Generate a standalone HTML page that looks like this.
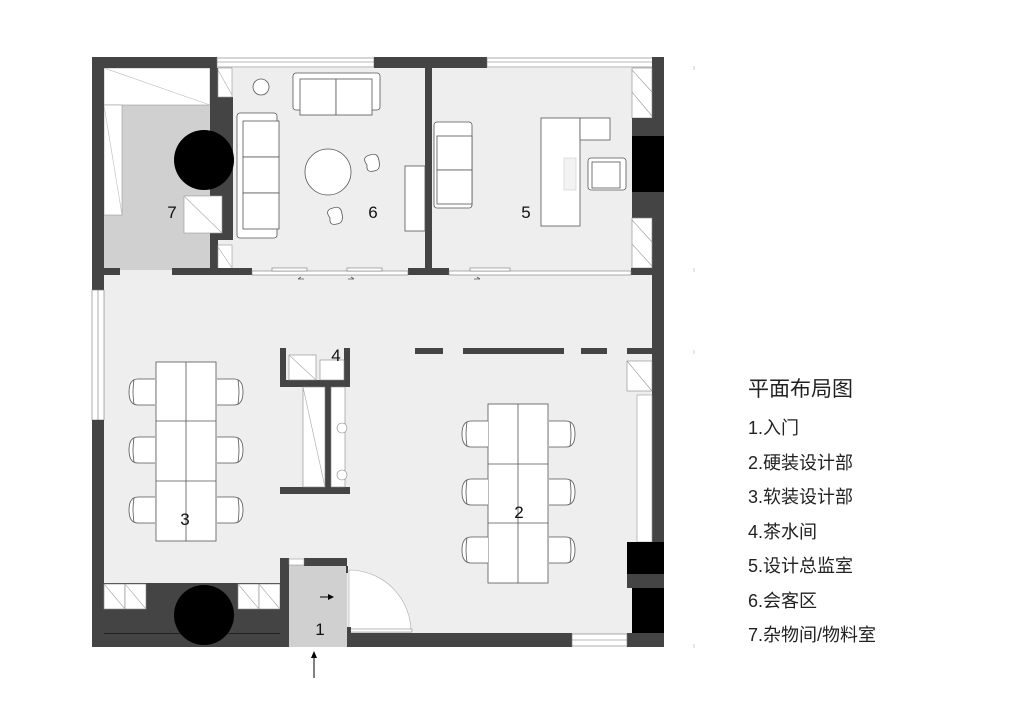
<!DOCTYPE html>
<html><head><meta charset="utf-8"><style>
html,body{margin:0;padding:0;background:#fff;}
svg{display:block;}
text{font-family:"Liberation Sans","Noto Sans CJK SC",sans-serif;}
</style></head><body>
<svg width="1020" height="710" viewBox="0 0 1020 710" xmlns="http://www.w3.org/2000/svg">
<!-- floors -->
<rect x="104" y="68" width="548" height="566" fill="#eeeeee"/>
<rect x="104" y="68" width="108" height="202" fill="#d0d0d0"/>
<rect x="104" y="68" width="106" height="37" fill="#fff" stroke="#999" stroke-width="0.6"/>
<line x1="104" y1="68" x2="210" y2="105" stroke="#bbb" stroke-width="0.6"/>
<rect x="104" y="105" width="18" height="110" fill="#fff" stroke="#999" stroke-width="0.6"/>
<line x1="104" y1="105" x2="122" y2="215" stroke="#bbb" stroke-width="0.6"/>
<!-- top wall -->
<rect x="92" y="57" width="125" height="11" fill="#444"/>
<rect x="217" y="58" width="157" height="9" fill="#fff" stroke="#777" stroke-width="0.6"/>
<line x1="217" y1="62" x2="374" y2="62" stroke="#777" stroke-width="0.6"/>
<rect x="374" y="57" width="113" height="11" fill="#444"/>
<rect x="487" y="58" width="166" height="9" fill="#fff" stroke="#777" stroke-width="0.6"/>
<line x1="487" y1="62" x2="653" y2="62" stroke="#777" stroke-width="0.6"/>
<!-- right wall -->
<rect x="652" y="57" width="12" height="590" fill="#444"/>
<rect x="632" y="68" width="20" height="50" fill="#fff" stroke="#888" stroke-width="0.6"/>
<line x1="632" y1="70" x2="652" y2="92" stroke="#999" stroke-width="0.6"/><line x1="632" y1="92" x2="652" y2="116" stroke="#999" stroke-width="0.6"/>
<rect x="632" y="118" width="20" height="100" fill="#444"/>
<rect x="632" y="136" width="32" height="56" fill="#000"/>
<rect x="632" y="218" width="20" height="50" fill="#fff" stroke="#888" stroke-width="0.6"/>
<line x1="632" y1="220" x2="652" y2="242" stroke="#999" stroke-width="0.6"/><line x1="632" y1="244" x2="652" y2="266" stroke="#999" stroke-width="0.6"/>
<rect x="627" y="361" width="25" height="30" fill="#fff" stroke="#888" stroke-width="0.6"/>
<line x1="627" y1="361" x2="652" y2="391" stroke="#999" stroke-width="0.6"/>
<rect x="637" y="395" width="15" height="147" fill="#fff" stroke="#999" stroke-width="0.6"/>
<rect x="627" y="542" width="37" height="32" fill="#000"/>
<rect x="627" y="574" width="37" height="14" fill="#444"/>
<rect x="632" y="588" width="32" height="45" fill="#000"/>
<rect x="627" y="633" width="37" height="14" fill="#444"/>
<!-- left wall -->
<rect x="92" y="57" width="12" height="233" fill="#444"/>
<rect x="92" y="290" width="12" height="130" fill="#fff" stroke="#777" stroke-width="0.6"/>
<line x1="98" y1="290" x2="98" y2="420" stroke="#777" stroke-width="0.6"/>
<rect x="92" y="420" width="12" height="227" fill="#444"/>
<!-- wall 7/6 -->
<path d="M210 68 H218 V97 H233 V240 H218 V270 H210 Z" fill="#444"/>
<rect x="218" y="68" width="14" height="29" fill="#fff" stroke="#999" stroke-width="0.6"/>
<line x1="218" y1="70" x2="232" y2="95" stroke="#aaa" stroke-width="0.6"/>
<rect x="218" y="245" width="14" height="25" fill="#fff" stroke="#999" stroke-width="0.6"/>
<line x1="218" y1="247" x2="232" y2="268" stroke="#aaa" stroke-width="0.6"/>
<circle cx="204" cy="160" r="30" fill="#000"/>
<rect x="184" y="196" width="38" height="37" fill="#fff" stroke="#999" stroke-width="0.6"/>
<line x1="184" y1="196" x2="222" y2="233" stroke="#aaa" stroke-width="0.6"/>
<!-- wall 6/5 -->
<rect x="425" y="68" width="7" height="207" fill="#444"/>
<!-- horizontal wall y268 -->
<rect x="92" y="268" width="28" height="7" fill="#444"/>
<rect x="172" y="268" width="80" height="7" fill="#444"/>
<rect x="408" y="268" width="41" height="7" fill="#444"/>
<rect x="631" y="268" width="21" height="7" fill="#444"/>
<g fill="#fff" stroke="#777" stroke-width="0.6">
<rect x="252" y="271" width="156" height="4"/>
<rect x="272" y="268" width="35" height="3"/><rect x="347" y="268" width="35" height="3"/>
<rect x="449" y="271" width="182" height="4"/>
<rect x="470" y="268" width="40" height="3"/>
</g>
<g stroke="#555" stroke-width="0.8" fill="none">
<path d="M298 279 h6 M298 279 l3 -2"/><path d="M348 279 h6 M354 279 l-3 -2"/><path d="M474 279 h6 M480 279 l-3 -2"/>
</g>
<!-- room 6 furniture -->
<g fill="#fff" stroke="#555" stroke-width="0.8">
<circle cx="261" cy="87" r="8"/>
<rect x="293" y="73" width="87" height="37" rx="3"/>
<rect x="300" y="79" width="36" height="36"/><rect x="336" y="79" width="36" height="36"/>
<rect x="237" y="113" width="40" height="125" rx="3"/>
<rect x="243" y="121" width="36" height="36"/><rect x="243" y="157" width="36" height="36"/><rect x="243" y="193" width="36" height="36"/>
<circle cx="328" cy="172" r="23"/>
<path d="M367 165 q-6 -8 3 -10 q8 -3 9 6 q2 9 -5 10 q-8 2 -7 -6 z"/>
<path d="M330 218 q-6 -8 3 -10 q8 -3 9 6 q2 9 -5 10 q-8 2 -7 -6 z"/>
<rect x="405" y="166" width="20" height="65"/>
<!-- room 5 -->
<rect x="434" y="122" width="38" height="86" rx="3"/>
<rect x="437" y="136" width="35" height="34"/><rect x="437" y="170" width="35" height="34"/>
<rect x="541" y="118" width="39" height="108"/>
<rect x="580" y="118" width="30" height="22"/>
<rect x="588" y="158" width="38" height="32" rx="3"/>
<rect x="592" y="162" width="28" height="26"/>
</g>
<rect x="564" y="158" width="12" height="32" fill="#f3f3f3" stroke="#ccc" stroke-width="0.6"/>
<!-- dashed wall -->
<g fill="#444">
<rect x="415" y="348" width="28" height="6"/><rect x="463" y="348" width="101" height="6"/>
<rect x="581" y="348" width="26" height="6"/><rect x="627" y="348" width="25" height="6"/>
</g>
<!-- tea room 4 -->
<g fill="#444">
<rect x="280" y="348" width="6" height="39"/><rect x="344" y="348" width="6" height="39"/>
<rect x="280" y="380" width="70" height="7"/>
<rect x="325" y="387" width="6" height="100"/>
<rect x="280" y="487" width="70" height="7"/>
</g>
<g fill="#fff" stroke="#888" stroke-width="0.6">
<rect x="289" y="355" width="27" height="25"/><rect x="320" y="360" width="24" height="20"/>
<rect x="303" y="387" width="22" height="100"/><rect x="331" y="387" width="14" height="100"/>
<circle cx="342" cy="428" r="5"/><circle cx="342" cy="475" r="5"/>
</g>
<line x1="289" y1="355" x2="316" y2="380" stroke="#aaa" stroke-width="0.6"/>
<line x1="303" y1="387" x2="325" y2="487" stroke="#aaa" stroke-width="0.6"/>
<!-- desks -->
<g fill="#fff" stroke="#555" stroke-width="0.8">
<rect x="156" y="362" width="60" height="179"/>
<rect x="488" y="404" width="60" height="179"/>
</g>
<g stroke="#555" stroke-width="0.8">
<line x1="186" y1="362" x2="186" y2="541"/><line x1="156" y1="421" x2="216" y2="421"/><line x1="156" y1="481" x2="216" y2="481"/>
<line x1="518" y1="404" x2="518" y2="583"/><line x1="488" y1="464" x2="548" y2="464"/><line x1="488" y1="523" x2="548" y2="523"/>
</g>
<defs>
<g id="chL"><path d="M27 -13 H10 Q1 -13 1 0 Q1 13 10 13 H27" fill="#fff" stroke="#555" stroke-width="0.8"/><path d="M6 -12 Q4 0 6 12" fill="none" stroke="#555" stroke-width="0.8"/></g>
</defs>
<g>
<use href="#chL" x="128" y="392"/><use href="#chL" x="128" y="450"/><use href="#chL" x="128" y="510"/>
<use href="#chL" transform="translate(244 392) scale(-1 1)"/><use href="#chL" transform="translate(244 450) scale(-1 1)"/><use href="#chL" transform="translate(244 510) scale(-1 1)"/>
<use href="#chL" x="461" y="434"/><use href="#chL" x="461" y="492"/><use href="#chL" x="461" y="550"/>
<use href="#chL" transform="translate(576 434) scale(-1 1)"/><use href="#chL" transform="translate(576 492) scale(-1 1)"/><use href="#chL" transform="translate(576 550) scale(-1 1)"/>
</g>
<!-- bottom left -->
<rect x="104" y="583" width="176" height="64" fill="#444"/>
<g fill="#fff" stroke="#888" stroke-width="0.6">
<rect x="104" y="584" width="21" height="25"/><rect x="125" y="584" width="21" height="25"/>
<rect x="238" y="584" width="21" height="25"/><rect x="259" y="584" width="21" height="25"/>
</g>
<g stroke="#aaa" stroke-width="0.6"><line x1="104" y1="584" x2="125" y2="609"/><line x1="125" y1="584" x2="146" y2="609"/><line x1="238" y1="584" x2="259" y2="609"/><line x1="259" y1="584" x2="280" y2="609"/></g>
<rect x="104" y="633" width="176" height="1" fill="#222"/>
<circle cx="204" cy="615" r="30" fill="#000"/>
<!-- entrance -->
<rect x="289" y="565" width="58" height="82" fill="#d0d0d0"/>
<rect x="280" y="558" width="9" height="89" fill="#444"/>
<rect x="304" y="558" width="43" height="8" fill="#444"/>
<rect x="289" y="559" width="15" height="6" fill="#fff" stroke="#888" stroke-width="0.5"/>
<rect x="346" y="566" width="2" height="7" fill="#444"/>
<path d="M349 570 A62 62 0 0 1 411 632 L349 632 Z" fill="#fff" stroke="#aaa" stroke-width="0.6"/>
<rect x="350" y="629" width="62" height="3" fill="#fff" stroke="#777" stroke-width="0.5"/>
<rect x="347" y="633" width="225" height="14" fill="#444"/>
<rect x="347" y="627" width="4" height="6" fill="#444"/>
<rect x="572" y="634" width="55" height="12" fill="#fff" stroke="#777" stroke-width="0.6"/>
<line x1="572" y1="640" x2="627" y2="640" stroke="#777" stroke-width="0.6"/>
<path d="M320 597 h10" stroke="#000" stroke-width="1"/><path d="M328 594 L334 597 L328 600 Z" fill="#000"/>
<path d="M314 678 V656" stroke="#000" stroke-width="1"/><path d="M311 658 L314 651 L317 658 Z" fill="#000"/>
<!-- ticks -->
<g stroke="#ccc" stroke-width="1"><line x1="694" y1="66" x2="694" y2="70"/><line x1="694" y1="268" x2="694" y2="272"/><line x1="694" y1="350" x2="694" y2="354"/><line x1="694" y1="644" x2="694" y2="648"/></g>
<!-- numbers -->
<g font-size="17" fill="#111" text-anchor="middle">
<text x="172" y="218">7</text><text x="373" y="218">6</text><text x="526" y="218">5</text>
<text x="336" y="361">4</text><text x="185" y="525">3</text><text x="519" y="518">2</text><text x="320" y="635">1</text>
</g>
<!-- legend -->
<g fill="#222">
<text x="748" y="396" font-size="21">平面布局图</text>
<g font-size="18">
<text x="748" y="434">1.入门</text>
<text x="748" y="469">2.硬装设计部</text>
<text x="748" y="503">3.软装设计部</text>
<text x="748" y="538">4.茶水间</text>
<text x="748" y="572">5.设计总监室</text>
<text x="748" y="607">6.会客区</text>
<text x="748" y="641">7.杂物间/物料室</text>
</g></g>
</svg>
</body></html>
